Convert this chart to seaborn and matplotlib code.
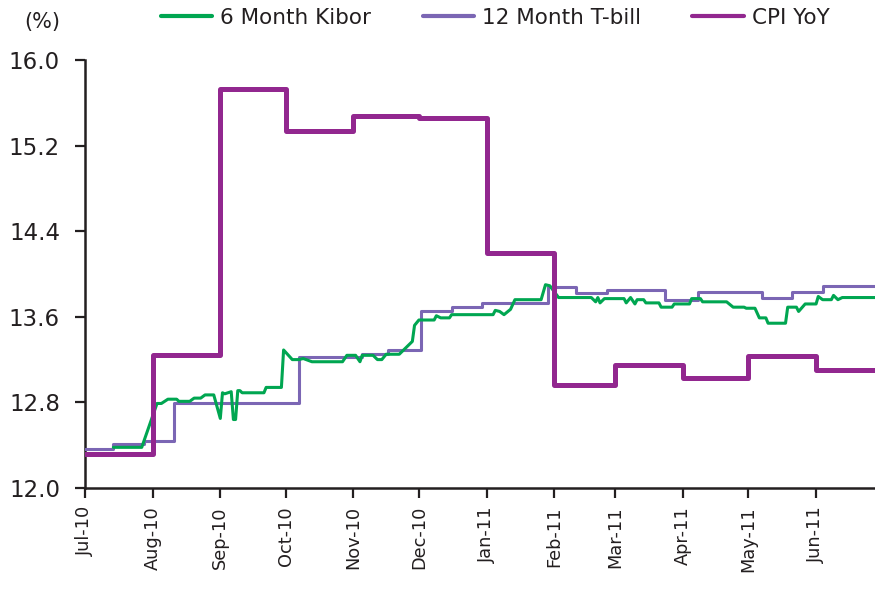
import matplotlib
matplotlib.use("Agg")
import matplotlib.pyplot as plt
import matplotlib.dates as mdates
import seaborn as sns
import pandas as pd

# ---------------- data ----------------
cpi_months = ["2010-07-01", "2010-08-01", "2010-09-01", "2010-10-01", "2010-11-01",
              "2010-12-01", "2011-01-01", "2011-02-01", "2011-03-01", "2011-04-01",
              "2011-05-01", "2011-06-01"]
cpi_values = [12.32, 13.24, 15.73, 15.34, 15.48, 15.46, 14.20, 12.96, 13.15, 13.03,
              13.23, 13.10]

tbill_dates = ["2010-07-01", "2010-07-14", "2010-07-28", "2010-08-11", "2010-10-07",
               "2010-11-05", "2010-11-17", "2010-12-02", "2010-12-16", "2010-12-30",
               "2011-01-29", "2011-02-11", "2011-02-25", "2011-03-24", "2011-04-08",
               "2011-05-07", "2011-05-21", "2011-06-04"]
tbill_values = [12.36, 12.41, 12.44, 12.79, 13.22, 13.25, 13.29, 13.65, 13.69, 13.73,
                13.88, 13.82, 13.85, 13.76, 13.83, 13.78, 13.83, 13.89]

kibor_dates = ["2010-07-14", "2010-07-27", "2010-08-03", "2010-08-05", "2010-08-08",
               "2010-08-12", "2010-08-13", "2010-08-18", "2010-08-20", "2010-08-23",
               "2010-08-25", "2010-08-29", "2010-09-01", "2010-09-02", "2010-09-03",
               "2010-09-06", "2010-09-07", "2010-09-08", "2010-09-09", "2010-09-10",
               "2010-09-11", "2010-09-21", "2010-09-22", "2010-09-29", "2010-09-30",
               "2010-10-04", "2010-10-07", "2010-10-09", "2010-10-13", "2010-10-27",
               "2010-10-29", "2010-11-02", "2010-11-04", "2010-11-05", "2010-11-10",
               "2010-11-12", "2010-11-14", "2010-11-16", "2010-11-22", "2010-11-28",
               "2010-11-29", "2010-12-01", "2010-12-08", "2010-12-09", "2010-12-11",
               "2010-12-15", "2010-12-16", "2011-01-04", "2011-01-05", "2011-01-07",
               "2011-01-09", "2011-01-12", "2011-01-14", "2011-01-26", "2011-01-28",
               "2011-01-30", "2011-02-03", "2011-02-18", "2011-02-20", "2011-02-21",
               "2011-02-22", "2011-02-24", "2011-03-05", "2011-03-06", "2011-03-08",
               "2011-03-10", "2011-03-11", "2011-03-14", "2011-03-15", "2011-03-21",
               "2011-03-22", "2011-03-27", "2011-03-28", "2011-04-04", "2011-04-05",
               "2011-04-09", "2011-04-10", "2011-04-21", "2011-04-24", "2011-04-29",
               "2011-04-30", "2011-05-04", "2011-05-06", "2011-05-09", "2011-05-10",
               "2011-05-18", "2011-05-19", "2011-05-23", "2011-05-24", "2011-05-27",
               "2011-06-01", "2011-06-02", "2011-06-04", "2011-06-08", "2011-06-09",
               "2011-06-11", "2011-06-13", "2011-06-28"]
kibor_values = [12.38, 12.38, 12.79, 12.79, 12.83,
                12.83, 12.81, 12.81, 12.84, 12.84,
                12.87, 12.87, 12.65, 12.89, 12.88,
                12.90, 12.64, 12.64, 12.91, 12.91,
                12.89, 12.89, 12.94, 12.94, 13.29,
                13.20, 13.20, 13.21, 13.18, 13.18,
                13.24, 13.24, 13.18, 13.24, 13.24,
                13.20, 13.20, 13.25, 13.25, 13.37,
                13.52, 13.57, 13.57, 13.61, 13.59,
                13.59, 13.62, 13.62, 13.66, 13.65,
                13.62, 13.67, 13.76, 13.76, 13.90,
                13.89, 13.78, 13.78, 13.74, 13.78,
                13.73, 13.77, 13.77, 13.73, 13.78,
                13.72, 13.76, 13.76, 13.73, 13.73,
                13.69, 13.69, 13.72, 13.72, 13.77,
                13.77, 13.74, 13.74, 13.69, 13.69,
                13.68, 13.68, 13.59, 13.59, 13.54,
                13.54, 13.69, 13.69, 13.65, 13.72,
                13.72, 13.79, 13.76, 13.76, 13.80,
                13.76, 13.78, 13.78]

series_labels = ["6 Month Kibor", "12 Month T-bill", "CPI YoY"]
y_ticks = [12.0, 12.8, 13.6, 14.4, 15.2, 16.0]
x_start, x_end = "2010-07-01", "2011-06-28"

# ---------------- style ----------------
sns.set_style("ticks")
plt.rcParams["font.family"] = ["DejaVu Sans"]

c_kibor = "#00A651"
c_tbill = "#7B66B4"
c_cpi = "#92278F"
txt = "#231F20"

fig = plt.figure(figsize=(8.75, 5.9), dpi=100)
ax = fig.add_axes([85 / 875, 102 / 590, 790 / 875, 428 / 590])

cpi_df = pd.DataFrame({"date": pd.to_datetime(cpi_months + [x_end]),
                       "value": cpi_values + [cpi_values[-1]]})
tb_df = pd.DataFrame({"date": pd.to_datetime(tbill_dates + [x_end]),
                      "value": tbill_values + [tbill_values[-1]]})
kb_df = pd.DataFrame({"date": pd.to_datetime(kibor_dates), "value": kibor_values})

sns.lineplot(data=tb_df, x="date", y="value", ax=ax, color=c_tbill, linewidth=2.2,
             drawstyle="steps-post", estimator=None, label=series_labels[1], zorder=3)
sns.lineplot(data=kb_df, x="date", y="value", ax=ax, color=c_kibor, linewidth=2.2,
             estimator=None, label=series_labels[0], zorder=4)
sns.lineplot(data=cpi_df, x="date", y="value", ax=ax, color=c_cpi, linewidth=3.6,
             drawstyle="steps-post", estimator=None, label=series_labels[2], zorder=5)

ax.set_xlim(pd.Timestamp(x_start), pd.Timestamp(x_end))
ax.set_ylim(12.0, 16.0)
ax.set_yticks(y_ticks)
ax.set_yticklabels([f"{v:.1f}" for v in y_ticks])
ax.xaxis.set_major_locator(mdates.MonthLocator())
ax.xaxis.set_major_formatter(mdates.DateFormatter("%b-%y"))
ax.set_xlabel("")
ax.set_ylabel("")

for s in ["top", "right"]:
    ax.spines[s].set_visible(False)
for s in ["left", "bottom"]:
    ax.spines[s].set_linewidth(1.8)
    ax.spines[s].set_color(txt)
ax.tick_params(axis="y", length=7, width=1.6, colors=txt, labelsize=16.5, pad=11)
ax.tick_params(axis="x", length=7, width=1.6, colors=txt, labelsize=12.8, pad=6,
               labelrotation=90)

# legend at top
handles, labels = ax.get_legend_handles_labels()
order = [labels.index(l) for l in series_labels]
ax.get_legend().remove()
leg = fig.legend([handles[i] for i in order], [labels[i] for i in order],
                 loc="center", bbox_to_anchor=(495 / 875, 1 - 18 / 590), ncol=3,
                 frameon=False, fontsize=15.5, handlelength=2.4, handletextpad=0.35,
                 columnspacing=2.4)
for t in leg.get_texts():
    t.set_color(txt)
for h in leg.legend_handles:
    h.set_linewidth(3)

fig.text(24 / 875, 1 - 22 / 590, "(%)", fontsize=15, color=txt, ha="left", va="center")

fig.savefig("out.png", dpi=100)
